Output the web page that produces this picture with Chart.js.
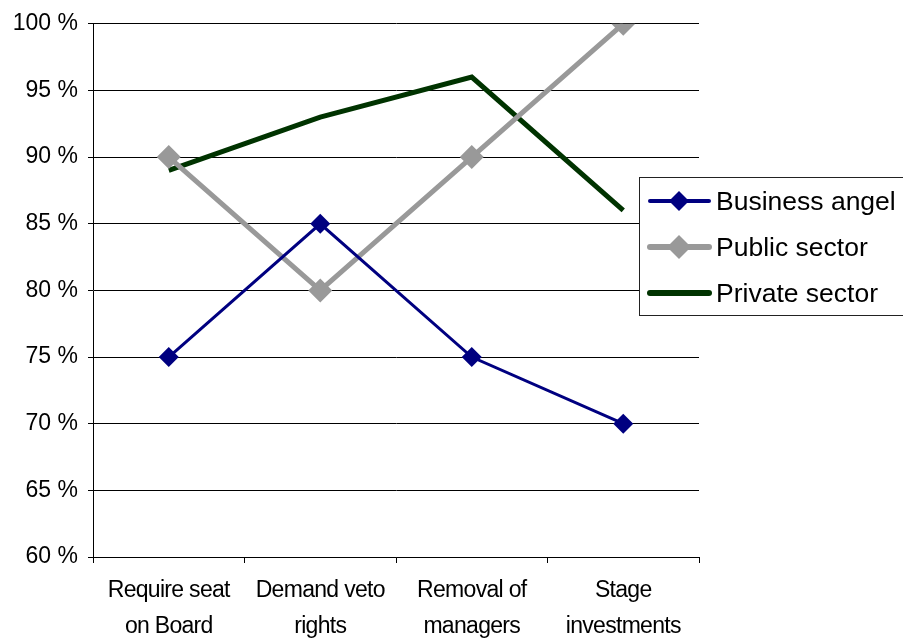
<!DOCTYPE html>
<html>
<head>
<meta charset="utf-8">
<script src="https://cdn.jsdelivr.net/npm/chart.js@4/dist/chart.umd.min.js"></script>
<style>
  html, body { margin: 0; padding: 0; background: #fff; overflow: hidden; }
  #wrap { position: relative; width: 903px; height: 641px; }
  #legend {
    position: absolute; left: 639px; top: 177px; width: 270px; height: 139px;
    border: 1px solid #222; background: #fff; box-sizing: border-box;
    font-family: "Liberation Sans", Arial, sans-serif; font-size: 26.5px; color: #000;
  }
  .item { position: absolute; left: 7px; height: 30px; display: flex; align-items: center; white-space: nowrap; }
  .item canvas { margin-right: 4px; }
</style>
</head>
<body>
<div id="wrap">
  <canvas id="lines" width="903" height="641"></canvas>
  <div id="legend"></div>
</div>
<script>
//Chart data
const categories = [["Require seat", "on Board"], ["Demand veto", "rights"], ["Removal of", "managers"], ["Stage", "investments"]];
const seriesNames = ["Business angel", "Public sector", "Private sector"];
const businessAngel = [75, 85, 75, 70];
const publicSector = [90, 80, 90, 100];
const privateSector = [89, 93, 96, 86];
const yTicks = [60, 65, 70, 75, 80, 85, 90, 95, 100];

const colours = ["#000080", "#999999", "#003300"];
const lineWidths = [3, 5, 5];
const markerSizes = [10, 12, 0];

const datasets = [businessAngel, publicSector, privateSector].map((values, i) => ({
    label : seriesNames[i],
    data : values,
    borderColor : colours[i],
    backgroundColor : colours[i],
    borderWidth : lineWidths[i],
    pointStyle : "rectRot",
    pointRadius : markerSizes[i],
    pointHoverRadius : markerSizes[i],
    pointBorderWidth : 0,
    tension : 0
}));

//x labels are drawn after the datasets (ticks.z = 1) with tighter letters
const tightLabels = {
    id : "tightLabels",
    afterDatasetsDraw : (chart) => { chart.ctx.letterSpacing = "-0.7px"; },
    afterDraw : (chart) => { chart.ctx.letterSpacing = "0px"; }
};

new Chart("lines", {
    type : "line",
    data : { labels : categories, datasets : datasets },
    plugins : [tightLabels],
    options : {
        responsive : false,
        animation : false,
        layout : { padding : { top : 17, right : 204, left : 0, bottom : 0 } },
        plugins : { legend : { display : false }, tooltip : { enabled : false } },
        scales : {
            x : {
                offset : true,
                afterFit : (s) => { s.height = 84; },
                border : { color : "#000", width : 1 },
                grid : { offset : true, drawOnChartArea : false, drawTicks : true, tickLength : 6, color : "#000" },
                ticks : {
                    z : 1,
                    color : "#000", padding : 10, maxRotation : 0, autoSkip : false,
                    font : { family : "'Liberation Sans', Arial", size : 23, lineHeight : 1.55 }
                }
            },
            y : {
                min : 60, max : 100,
                afterFit : (s) => { s.width = 93; },
                afterBuildTicks : (s) => { s.ticks = yTicks.map(v => ({ value : v })); },
                border : { color : "#000", width : 1 },
                grid : { color : "#000", lineWidth : 1, tickLength : 5 },
                ticks : {
                    color : "#000", padding : 10,
                    font : { family : "'Liberation Sans', Arial", size : 23 },
                    callback : (v) => v + " %"
                }
            }
        }
    }
});

//Legend box drawn over the plot like the original
const legend = document.getElementById("legend");
seriesNames.forEach((name, i) => {
    const item = document.createElement("div");
    item.className = "item";
    item.style.top = (8 + i * 46) + "px";
    const sw = document.createElement("canvas");
    sw.width = 65; sw.height = 30;
    const c = sw.getContext("2d");
    c.strokeStyle = colours[i]; c.lineWidth = lineWidths[i] + 1; c.lineCap = "round";
    c.beginPath(); c.moveTo(3, 15); c.lineTo(62, 15); c.stroke();
    if (markerSizes[i]) {
        const r = markerSizes[i];
        c.fillStyle = colours[i];
        c.beginPath(); c.moveTo(32, 15 - r); c.lineTo(32 + r, 15); c.lineTo(32, 15 + r); c.lineTo(32 - r, 15); c.closePath(); c.fill();
    }
    item.appendChild(sw);
    const t = document.createElement("span");
    t.textContent = name;
    item.appendChild(t);
    legend.appendChild(item);
});
</script>
</body>
</html>
